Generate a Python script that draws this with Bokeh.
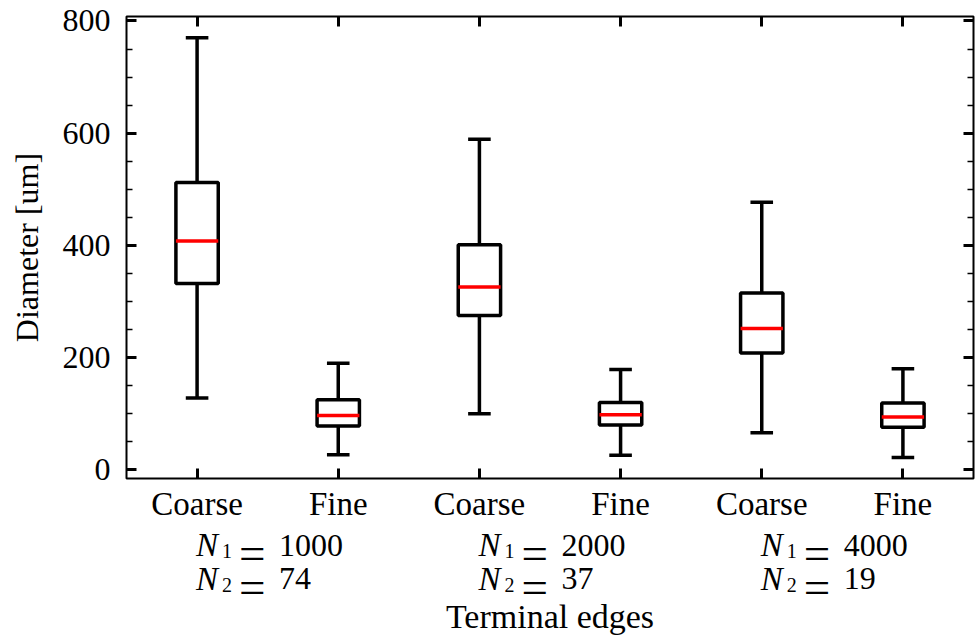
from bokeh.plotting import figure
from bokeh.layouts import column
from bokeh.models import Range1d, FixedTicker, SingleIntervalTicker, LinearAxis, ColumnDataSource
from bokeh.core.properties import value
from bokeh.embed import file_html
from bokeh.resources import INLINE

# ---- data ----
positions = [1, 2, 3, 4, 5, 6]
tick_labels = ["Coarse", "Fine", "Coarse", "Fine", "Coarse", "Fine"]
whisker_low = [128, 27, 100, 26, 66, 22]
q1 = [332, 78, 275, 80, 208, 76]
median = [408, 97, 326, 98, 252, 94]
q3 = [512, 125, 401, 120, 315, 119]
whisker_high = [770, 190, 589, 179, 477, 180]

group_positions = [1, 3, 5]
n1_values = [1000, 2000, 4000]
n2_values = [74, 37, 19]

y_ticks = [0, 200, 400, 600, 800]
y_start, y_end = -15.5, 808
x_start, x_end = 0.5, 6.5

FONT = "Liberation Serif"
box_w = 0.30
cap_w = 0.16
LW = 3.5

W = 977
H1, H2 = 524, 112
BL, BR = 126, 4

x_range = Range1d(x_start, x_end)

p = figure(width=W, height=H1, x_range=x_range, y_range=Range1d(y_start, y_end),
           output_backend="svg", toolbar_location=None,
           min_border_left=BL, min_border_right=BR, min_border_top=16, min_border_bottom=H1 - 479)
p.title = None
p.background_fill_color = "white"
p.border_fill_color = "white"
p.outline_line_color = "black"
p.outline_line_width = 2
p.xgrid.visible = False
p.ygrid.visible = False

src = ColumnDataSource(dict(
    x=positions,
    left=[x - box_w / 2 for x in positions],
    right=[x + box_w / 2 for x in positions],
    cl=[x - cap_w / 2 for x in positions],
    cr=[x + cap_w / 2 for x in positions],
    lo=whisker_low, q1=q1, med=median, q3=q3, hi=whisker_high,
))

p.segment(x0="x", y0="q3", x1="x", y1="hi", source=src, line_color="black", line_width=LW)
p.segment(x0="x", y0="q1", x1="x", y1="lo", source=src, line_color="black", line_width=LW)
p.segment(x0="cl", y0="hi", x1="cr", y1="hi", source=src, line_color="black", line_width=LW)
p.segment(x0="cl", y0="lo", x1="cr", y1="lo", source=src, line_color="black", line_width=LW)
p.quad(left="left", right="right", bottom="q1", top="q3", source=src,
       fill_color="white", line_color="black", line_width=LW)
p.segment(x0="left", y0="med", x1="right", y1="med", source=src, line_color="red", line_width=LW)


def style_axis(ax, show_labels, minor, ticks=None):
    ax.axis_line_color = None
    ax.major_tick_in = 10
    ax.major_tick_out = 0
    ax.major_tick_line_color = "black"
    ax.major_tick_line_width = 3
    if minor:
        ax.minor_tick_in = 6
        ax.minor_tick_out = 0
        ax.minor_tick_line_color = "black"
        ax.minor_tick_line_width = 1.5
    else:
        ax.minor_tick_line_color = None
    if show_labels:
        ax.major_label_text_font = FONT
        ax.major_label_text_font_size = "32px"
        ax.major_label_text_color = "black"
    else:
        ax.major_label_overrides = {t: "" for t in ticks}
        ax.major_label_text_font_size = "0px"
        ax.major_label_standoff = 0


xb = p.xaxis[0]
xb.ticker = FixedTicker(ticks=positions, minor_ticks=[])
xb.major_label_overrides = {pos: lab for pos, lab in zip(positions, tick_labels)}
style_axis(xb, True, False)
xb.major_label_text_font_size = "33px"
xb.major_label_standoff = 7

yl = p.yaxis[0]
yl.ticker = SingleIntervalTicker(interval=200, num_minor_ticks=4)
style_axis(yl, True, True)
yl.major_label_standoff = 16
yl.axis_label = "Diameter [um]"
yl.axis_label_text_font = FONT
yl.axis_label_text_font_size = "32px"
yl.axis_label_text_font_style = "normal"
yl.axis_label_text_color = "black"
yl.axis_label_standoff = 15

xt = LinearAxis(ticker=FixedTicker(ticks=positions, minor_ticks=[]))
style_axis(xt, False, False, positions)
p.add_layout(xt, "above")

yr = LinearAxis(ticker=SingleIntervalTicker(interval=200, num_minor_ticks=4))
style_axis(yr, False, True, y_ticks)
p.add_layout(yr, "right")

# ---- lower panel: group annotations and axis title ----
q = figure(width=W, height=H2, x_range=x_range, y_range=Range1d(0, H2),
           output_backend="svg", toolbar_location=None,
           x_axis_location=None, y_axis_location=None,
           min_border_left=BL, min_border_right=BR, min_border_top=0, min_border_bottom=0)
q.title = None
q.outline_line_color = None
q.xgrid.visible = False
q.ygrid.visible = False
q.background_fill_color = "white"
q.border_fill_color = "white"

row_base = [91.3, 58.0]   # text positions (px from panel bottom) of the N_1 and N_2 rows
gx, gy, sub, vals = [], [], [], []
for g, n1, n2 in zip(group_positions, n1_values, n2_values):
    for r, (s, v) in enumerate([("1", n1), ("2", n2)]):
        gx.append(g)
        gy.append(row_base[r])
        sub.append(s)
        vals.append(str(v))
tsrc = ColumnDataSource(dict(x=gx, y=gy, ysub=[y - 6 for y in gy], yeq=[y - 8 for y in gy],
                             N=["N"] * len(gx), sub=sub, eq=["="] * len(gx), val=vals))

q.text(x="x", y="y", text="N", source=tsrc, x_offset=-1, text_font=value(FONT),
       text_font_style="italic", text_font_size=value("33px"), text_baseline="alphabetic",
       text_align="left", text_color="black")
q.text(x="x", y="ysub", text="sub", source=tsrc, x_offset=25, text_font=value(FONT),
       text_font_size=value("20px"), text_baseline="alphabetic", text_align="left", text_color="black")
q.text(x="x", y="yeq", text="eq", source=tsrc, x_offset=42, text_font=value(FONT),
       text_font_size=value("47px"), text_baseline="alphabetic", text_align="left", text_color="black")
q.text(x="x", y="y", text="val", source=tsrc, x_offset=82, text_font=value(FONT),
       text_font_size=value("32px"), text_baseline="alphabetic", text_align="left", text_color="black")

q.text(x=[(x_start + x_end) / 2], y=[20], text=["Terminal edges"], text_font=value(FONT),
       text_font_size=value("34px"), text_baseline="alphabetic", text_align="center", text_color="black")

layout = column(p, q, spacing=0)
open("out.html", "w").write(file_html(layout, INLINE))
